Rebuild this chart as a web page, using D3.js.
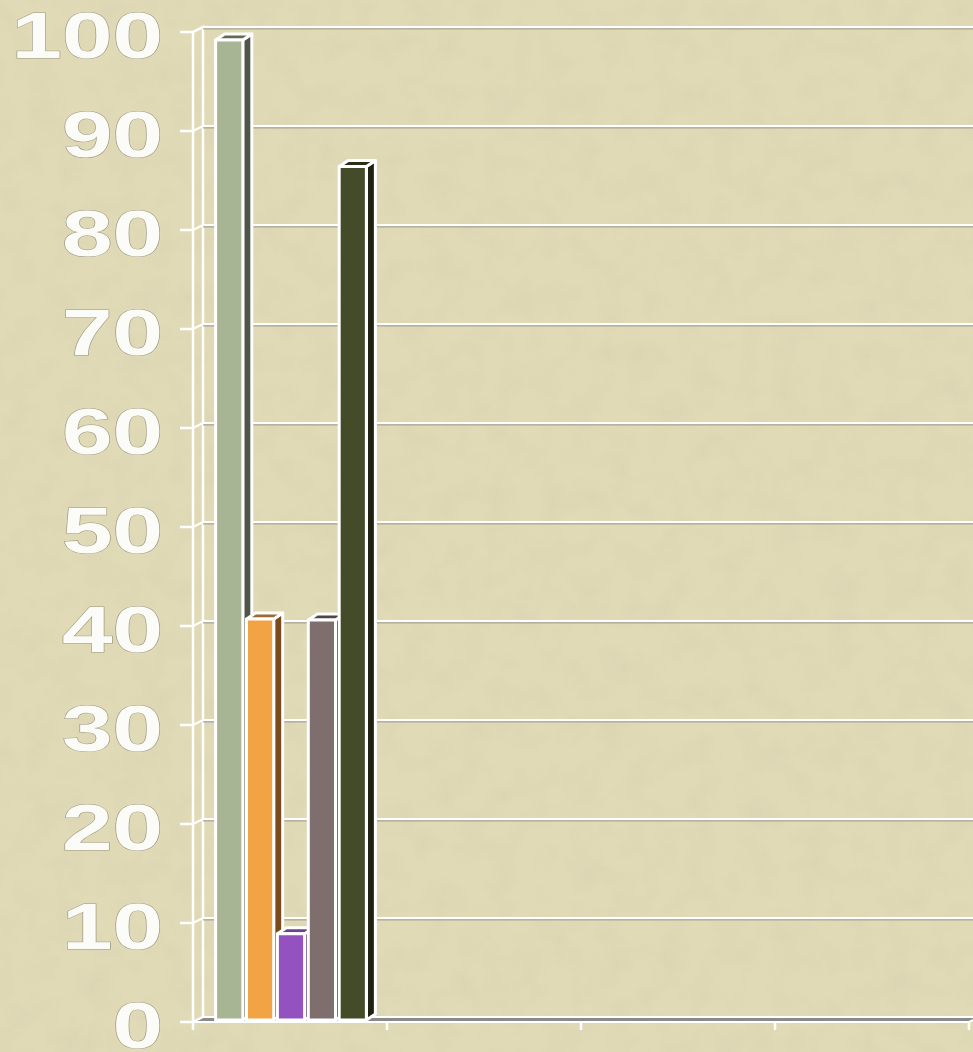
<!DOCTYPE html>
<html>
<head>
<meta charset="utf-8">
<script src="https://cdn.jsdelivr.net/npm/d3@7"></script>
<style>
  body { margin: 0; background: #dfd9b6; overflow: hidden; }
</style>
</head>
<body>
<div id="my_dataviz"></div>
<script>

// data
var categories = ["Category 1", "Category 2", "Category 3", "Category 4"];
var seriesNames = ["Series 1", "Series 2", "Series 3", "Series 4", "Series 5"];
var series1 = [99, null, null, null];
var series2 = [40.5, null, null, null];
var series3 = [8.7, null, null, null];
var series4 = [40.4, null, null, null];
var series5 = [86.2, null, null, null];
var yTicks = [0, 10, 20, 30, 40, 50, 60, 70, 80, 90, 100];

var allSeries = [series1, series2, series3, series4, series5];

// colours: front, side, top
var faceColors = ["#a7b594", "#f2a444", "#9352bf", "#7e6e6e", "#444b28"];
var sideColors = ["#4f5548", "#7a4a1c", "#5e3580", "#3d3636", "#1f2212"];
var topColors  = ["#626a56", "#9c6834", "#6d4192", "#4f4747", "#2b2f19"];

var width = 973, height = 1052;
var wall = {dx: 10, dy: -5};     // depth of the plot box
var bar = {dx: 9, dy: -6};       // depth of one column
var barOff = {dx: 1, dy: -2};    // column front plane from box front

var svg = d3.select("#my_dataviz")
  .append("svg")
    .attr("width", width)
    .attr("height", height);

// paper texture
var defs = svg.append("defs");
var filt = defs.append("filter").attr("id", "paper")
  .attr("x", 0).attr("y", 0).attr("width", "100%").attr("height", "100%");
filt.append("feTurbulence")
  .attr("type", "fractalNoise")
  .attr("baseFrequency", 0.035)
  .attr("numOctaves", 4)
  .attr("seed", 7);
filt.append("feColorMatrix")
  .attr("type", "matrix")
  .attr("values", "0 0 0 0 0.55  0 0 0 0 0.5  0 0 0 0 0.35  0 0 0 -0.9 0.55");

svg.append("rect")
  .attr("width", width).attr("height", height)
  .attr("fill", "#e0dab7");
svg.append("rect")
  .attr("width", width).attr("height", height)
  .attr("filter", "url(#paper)")
  .attr("opacity", 0.3);

// scales (front plane)
var x = d3.scaleBand()
  .domain(categories)
  .range([193, 969]);

var xs = d3.scaleBand()
  .domain(seriesNames)
  .range([0, x.bandwidth()])
  .paddingInner(0.12)
  .paddingOuter(0.7);

var yBack = d3.scaleLinear()
  .domain([0, 100])
  .range([1017, 27]);
function yFront(v) { return yBack(v) - wall.dy; }

var x0 = x.range()[0], x1 = x.range()[1];

function pts(a) { return a.map(function(p) { return p.join(","); }).join(" "); }

// left wall
svg.append("polygon")
  .attr("points", pts([[x0, yFront(0)], [x0, yFront(100)], [x0 + wall.dx, yBack(100)], [x0 + wall.dx, yBack(0)]]))
  .attr("fill", "none")
  .attr("stroke", "#fff")
  .attr("stroke-width", 2.5);

// gridlines on the back wall
var grid = svg.append("g");
yTicks.forEach(function(t) {
  if (t > 0) {
    grid.append("line")
      .attr("x1", x0 + wall.dx).attr("x2", x1 + wall.dx)
      .attr("y1", yBack(t) + 1.8).attr("y2", yBack(t) + 1.8)
      .attr("stroke", "#a9a596").attr("stroke-width", 1.2);
    grid.append("line")
      .attr("x1", x0 + wall.dx).attr("x2", x1 + wall.dx)
      .attr("y1", yBack(t)).attr("y2", yBack(t))
      .attr("stroke", "#fff").attr("stroke-width", 2);
  }
  grid.append("line")
    .attr("x1", x0).attr("x2", x0 + wall.dx)
    .attr("y1", yFront(t)).attr("y2", yBack(t))
    .attr("stroke", "#fff").attr("stroke-width", 2);
  // y tick
  grid.append("line")
    .attr("x1", x0 - 13).attr("x2", x0)
    .attr("y1", yFront(t)).attr("y2", yFront(t))
    .attr("stroke", "#fff").attr("stroke-width", 2.5);
});

// floor
svg.append("polygon")
  .attr("points", pts([[x0, yFront(0)], [x1, yFront(0)], [x1 + wall.dx, yBack(0)], [x0 + wall.dx, yBack(0)]]))
  .attr("fill", "#8a8a86")
  .attr("stroke", "#fff")
  .attr("stroke-width", 2);

// x ticks
svg.selectAll("xtick")
  .data(categories.concat(["end"]))
  .enter()
  .append("line")
    .attr("x1", function(d, i) { return i < categories.length ? x(d) : x1; })
    .attr("x2", function(d, i) { return i < categories.length ? x(d) : x1; })
    .attr("y1", yFront(0))
    .attr("y2", yFront(0) + 8)
    .attr("stroke", "#fff")
    .attr("stroke-width", 2.5);

// columns
var bars = svg.append("g")
  .attr("stroke", "#fff")
  .attr("stroke-width", 3)
  .attr("stroke-linejoin", "round");

categories.forEach(function(c, ci) {
  seriesNames.forEach(function(s, si) {
    var v = allSeries[si][ci];
    if (v == null) return;
    var l = x(c) + xs(s) + barOff.dx;
    var r = l + xs.bandwidth();
    var t = yFront(v) + barOff.dy;
    var b = yFront(0) + barOff.dy;
    bars.append("polygon")
      .attr("points", pts([[r, t], [r + bar.dx, t + bar.dy], [r + bar.dx, b + bar.dy], [r, b]]))
      .attr("fill", sideColors[si]);
    bars.append("polygon")
      .attr("points", pts([[l, t], [l + bar.dx, t + bar.dy], [r + bar.dx, t + bar.dy], [r, t]]))
      .attr("fill", topColors[si]);
    bars.append("rect")
      .attr("x", l).attr("y", t)
      .attr("width", r - l).attr("height", b - t)
      .attr("fill", faceColors[si]);
  });
});

// y labels
var sx = 1.42;
svg.append("g")
  .attr("transform", "scale(" + sx + ",1)")
  .selectAll("text")
  .data(yTicks)
  .enter()
  .append("text")
    .attr("x", 163 / sx)
    .attr("y", function(d) { return yFront(d) + 3; })
    .attr("dy", "0.36em")
    .attr("text-anchor", "end")
    .style("font-family", "'Liberation Sans', Arial, sans-serif")
    .style("font-weight", "bold")
    .style("font-size", "64px")
    .style("fill", "#fbfbf7")
    .style("stroke", "#9c9782")
    .style("stroke-width", 1)
    .style("paint-order", "stroke")
    .text(function(d) { return d; });

</script>
</body>
</html>
